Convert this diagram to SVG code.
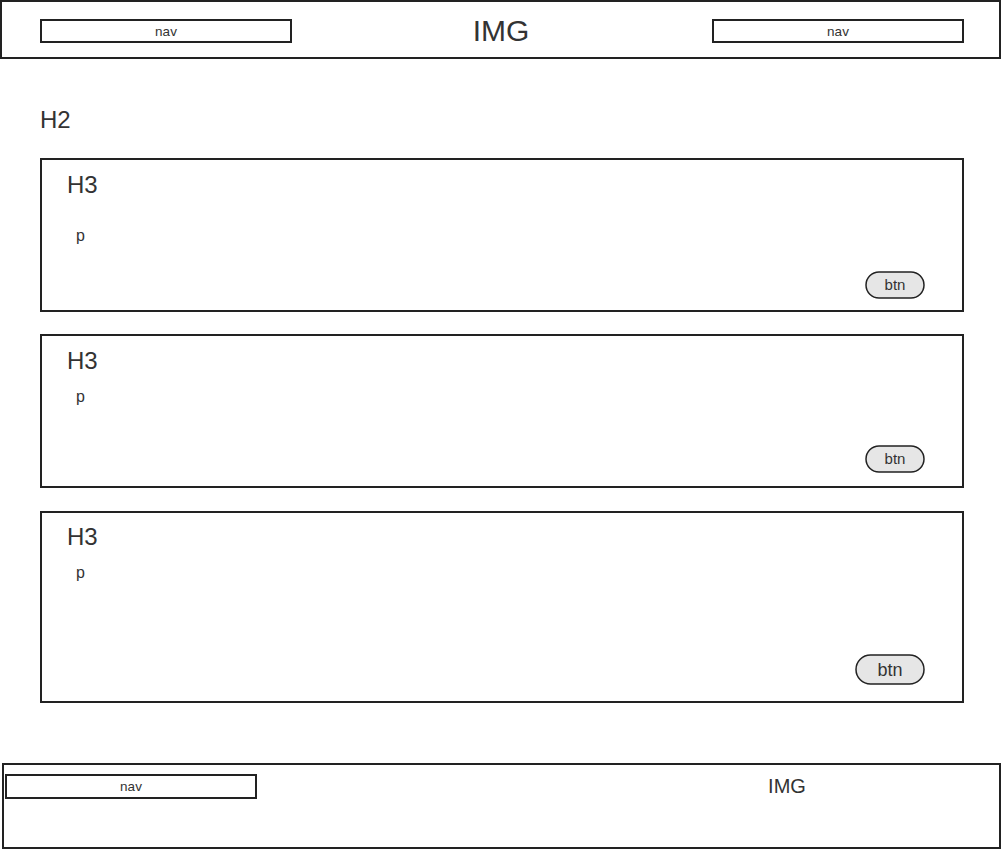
<svg xmlns="http://www.w3.org/2000/svg" width="1002" height="849" viewBox="0 0 1002 849">
<style>
.box{fill:#fff;stroke:#222;stroke-width:2}
.btn{fill:#e6e6e6;stroke:#222;stroke-width:1.5}
text{font-family:"Liberation Sans",Arial,sans-serif;fill:#333}
.nav{font-size:13.5px;text-anchor:middle}
.h{font-size:24px}
.p{font-size:16px}
.bt{font-size:15px;text-anchor:middle}
</style>
<rect width="1002" height="849" fill="#fff"/>
<g id="header">
<rect class="box" x="1" y="1" width="999" height="57"/>
<g id="nav-left"><rect class="box" x="41" y="20" width="250" height="22"/><text class="nav" x="166" y="36">nav</text></g>
<text id="img-top" x="501" y="41" font-size="30" text-anchor="middle">IMG</text>
<g id="nav-right"><rect class="box" x="713" y="20" width="250" height="22"/><text class="nav" x="838" y="36">nav</text></g>
</g>
<text id="h2" class="h" x="40" y="128">H2</text>
<g id="card1">
<rect class="box" x="41" y="159" width="922" height="152"/>
<text class="h" x="67" y="193">H3</text>
<text class="p" x="76" y="241">p</text>
<rect class="btn" x="866" y="272" width="58" height="26" rx="13"/>
<text class="bt" x="895" y="290">btn</text>
</g>
<g id="card2">
<rect class="box" x="41" y="335" width="922" height="152"/>
<text class="h" x="67" y="369">H3</text>
<text class="p" x="76" y="402">p</text>
<rect class="btn" x="866" y="446" width="58" height="26" rx="13"/>
<text class="bt" x="895" y="464">btn</text>
</g>
<g id="card3">
<rect class="box" x="41" y="512" width="922" height="190"/>
<text class="h" x="67" y="545">H3</text>
<text class="p" x="76" y="578">p</text>
<rect class="btn" x="856" y="655" width="68" height="29" rx="14.5"/>
<text x="890" y="676" font-size="18" text-anchor="middle">btn</text>
</g>
<g id="footer">
<rect class="box" x="3" y="764" width="997" height="84"/>
<g id="nav-footer"><rect class="box" x="6" y="775" width="250" height="23"/><text class="nav" x="131" y="791">nav</text></g>
<text id="img-footer" x="787" y="793" font-size="20" text-anchor="middle">IMG</text>
</g>
</svg>
